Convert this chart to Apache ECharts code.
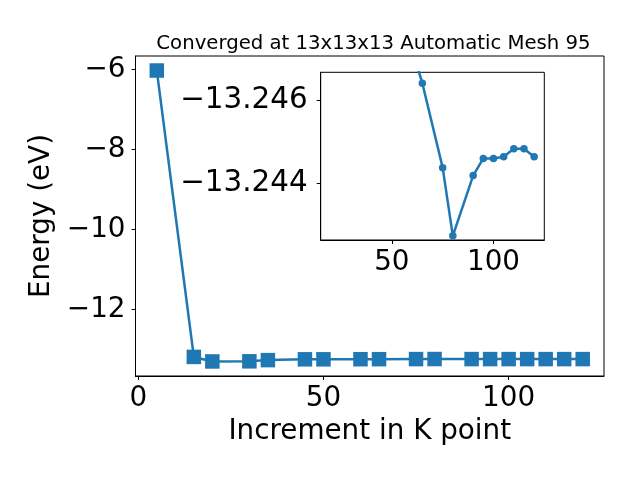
<!DOCTYPE html>
<html>
<head>
<meta charset="utf-8">
<script src="https://cdn.jsdelivr.net/npm/echarts@6/dist/echarts.min.js"></script>
<style>html,body{margin:0;padding:0;background:#fff}#c{width:640px;height:480px}</style>
</head>
<body>
<div id="c"></div>
<script>
var kPoints = [5, 15, 20, 30, 35, 45, 50, 60, 65, 75, 80, 90, 95, 100, 105, 110, 115, 120];
var energies = [-6.03, -13.19, -13.303, -13.30, -13.27, -13.25, -13.25, -13.2472, -13.2464, -13.24438, -13.24275, -13.24419, -13.2446, -13.2446, -13.24464, -13.24483, -13.24483, -13.24464];
var insetStart = 2; // inset plots from k = 20 onward
var mainXTicks = [0, 50, 100];
var mainYTicks = [-12, -10, -8, -6];
var insetXTicks = [50, 100];
var insetYTicks = [-13.246, -13.244];
var titleText = 'Converged at 13x13x13 Automatic Mesh 95';
var xName = 'Increment in K point';
var yName = 'Energy (eV)';

var pairs = kPoints.map(function (k, i) { return [k, energies[i]]; });
var insetPairs = pairs.slice(insetStart);
var FONT = 'DejaVu Sans';
var C = '#1f77b4';
function minus(s) { return String(s).replace('-', '\u2212'); }
function axisCommon(extra) {
  var base = {
    axisLine: { show: true, onZero: false, lineStyle: { color: '#000', width: 1 } },
    axisTick: { show: true, inside: false, length: 4, lineStyle: { color: '#000', width: 1 } },
    splitLine: { show: false },
    axisLabel: { color: '#000', fontFamily: FONT, fontSize: 27.8 }
  };
  for (var k in extra) {
    if (typeof extra[k] === 'object' && base[k] && !Array.isArray(extra[k])) {
      for (var j in extra[k]) base[k][j] = extra[k][j];
    } else base[k] = extra[k];
  }
  return base;
}
var chart = echarts.init(document.getElementById('c'), null, { renderer: 'canvas' });
chart.setOption({
  animation: false,
  backgroundColor: '#fff',
  title: {
    text: titleText, left: 368.5, top: 29, textAlign: 'center',
    textStyle: { fontFamily: FONT, fontSize: 19.7, fontWeight: 'normal', color: '#000' }
  },
  grid: [
    { left: 135.5, top: 56, width: 468.5, height: 320, show: true, borderColor: '#000', borderWidth: 1, backgroundColor: '#fff', containLabel: false },
    { left: 320.7, top: 72.3, width: 223.6, height: 167.7, show: true, borderColor: '#000', borderWidth: 1, backgroundColor: '#fff', containLabel: false, z: 5 }
  ],
  xAxis: [
    axisCommon({
      type: 'value', gridIndex: 0, min: -0.75, max: 125.75,
      axisTick: { customValues: mainXTicks },
      axisLabel: { customValues: mainXTicks, margin: 9 },
      name: xName, nameLocation: 'middle', nameGap: 39,
      nameTextStyle: { fontFamily: FONT, fontSize: 27.8, color: '#000' }
    }),
    axisCommon({
      type: 'value', gridIndex: 1, min: 15, max: 125, z: 6,
      axisTick: { customValues: insetXTicks },
      axisLabel: { customValues: insetXTicks, margin: 9 }
    })
  ],
  yAxis: [
    axisCommon({
      type: 'value', gridIndex: 0, min: -13.667, max: -5.667,
      axisTick: { customValues: mainYTicks },
      axisLabel: { customValues: mainYTicks, margin: 10, formatter: function (v) { return minus(v); } },
      name: yName, nameLocation: 'middle', nameGap: 70,
      nameTextStyle: { fontFamily: FONT, fontSize: 27.8, color: '#000' }
    }),
    axisCommon({
      type: 'value', gridIndex: 1, inverse: true, min: -13.24666, max: -13.24265, z: 6,
      axisTick: { customValues: insetYTicks },
      axisLabel: { customValues: insetYTicks, margin: 13, fontSize: 29.4, formatter: function (v) { return minus(v.toFixed(3)); } }
    })
  ],
  series: [
    {
      type: 'line', xAxisIndex: 0, yAxisIndex: 0, data: pairs,
      symbol: 'rect', symbolSize: 14.5, showAllSymbol: true,
      itemStyle: { color: C }, lineStyle: { color: C, width: 2.5 }, z: 3
    },
    {
      type: 'line', xAxisIndex: 1, yAxisIndex: 1, data: insetPairs, clip: true,
      symbol: 'circle', symbolSize: 7.5, showAllSymbol: true,
      itemStyle: { color: C }, lineStyle: { color: C, width: 2.5 }, z: 10
    }
  ]
});
</script>
</body>
</html>
